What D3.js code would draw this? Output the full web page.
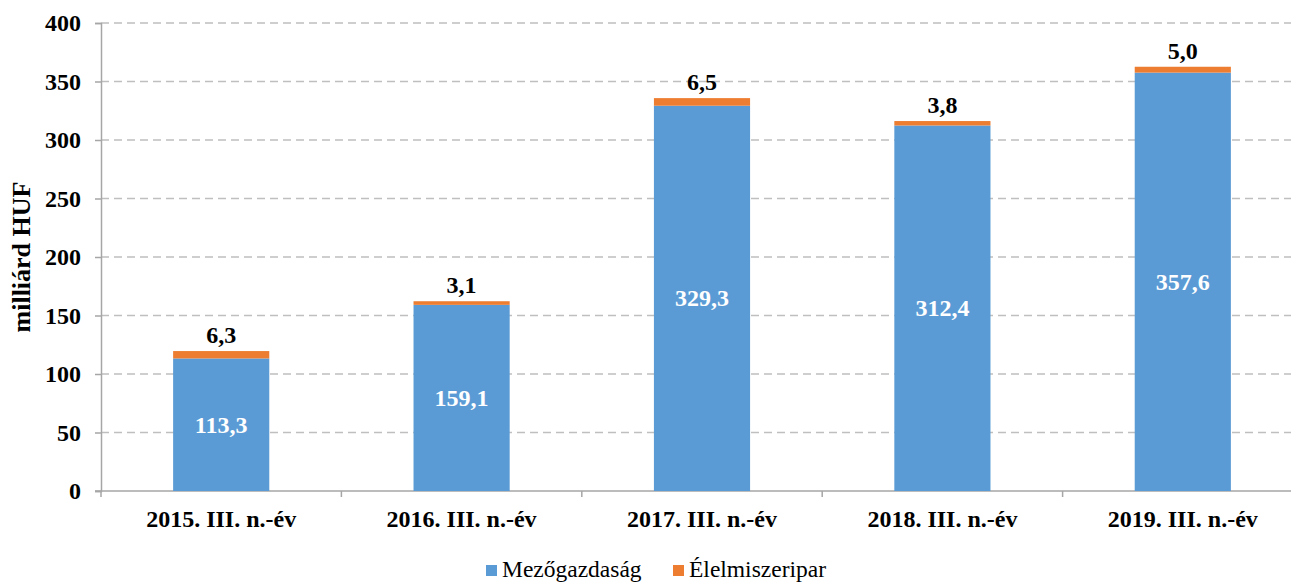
<!DOCTYPE html>
<html>
<head>
<meta charset="utf-8">
<script src="https://cdn.jsdelivr.net/npm/d3@7"></script>
<style>
  body { margin: 0; background: #fff; }
  svg { font-family: "Liberation Serif", "Times New Roman", serif; }
</style>
</head>
<body>
<div id="chart"></div>
<script>
// adatok
const categories = ['2015. III. n.-év', '2016. III. n.-év', '2017. III. n.-év', '2018. III. n.-év', '2019. III. n.-év'];
const mezogazdasag = [113.3, 159.1, 329.3, 312.4, 357.6];
const elelmiszeripar = [6.3, 3.1, 6.5, 3.8, 5.0];
const yTicks = [0, 50, 100, 150, 200, 250, 300, 350, 400];
const seriesNames = ['Mezőgazdaság', 'Élelmiszeripar'];
const colors = ['#5B9BD5', '#ED7D31'];

const W = 1291, H = 583;
const margin = { top: 23, right: -12, bottom: 92, left: 101 };
const fmt = v => v.toFixed(1).replace('.', ',');

const svg = d3.select('#chart').append('svg')
  .attr('width', W).attr('height', H);

const x = d3.scaleBand()
  .domain(categories)
  .range([margin.left, W - margin.right])
  .paddingInner(0.6).paddingOuter(0.3);

const y = d3.scaleLinear()
  .domain([0, 400])
  .range([H - margin.bottom, margin.top]);

// rácsvonalak
svg.append('g')
  .selectAll('line')
  .data(yTicks.filter(d => d > 0))
  .join('line')
  .attr('x1', margin.left).attr('x2', W - margin.right)
  .attr('y1', d => y(d)).attr('y2', d => y(d))
  .attr('stroke', '#BFBFBF').attr('stroke-width', 1.3)
  .attr('stroke-dasharray', '8,5');

// y tengely
const yAxis = svg.append('g')
  .attr('transform', `translate(${margin.left},0)`)
  .call(d3.axisLeft(y).tickValues(yTicks).tickSize(6).tickPadding(14));
yAxis.select('.domain').attr('stroke', '#A6A6A6').attr('stroke-width', 1.5);
yAxis.selectAll('.tick line').attr('stroke', '#A6A6A6').attr('stroke-width', 1.5);
yAxis.selectAll('text')
  .attr('font-family', '"Liberation Serif", serif')
  .attr('font-size', 24).attr('font-weight', 'bold').attr('fill', '#000');

// x tengely
const boundaries = categories.map(c => x(c) - x.step() * 0.3).concat([W - margin.right]);
svg.append('line')
  .attr('x1', margin.left - 6).attr('x2', W - margin.right)
  .attr('y1', y(0)).attr('y2', y(0))
  .attr('stroke', '#A6A6A6').attr('stroke-width', 1.5);
svg.append('g')
  .selectAll('line')
  .data(boundaries)
  .join('line')
  .attr('x1', d => d).attr('x2', d => d)
  .attr('y1', y(0)).attr('y2', y(0) + 6)
  .attr('stroke', '#A6A6A6').attr('stroke-width', 1.5);

svg.append('g')
  .selectAll('text')
  .data(categories)
  .join('text')
  .attr('x', d => x(d) + x.bandwidth() / 2)
  .attr('y', y(0) + 36)
  .attr('text-anchor', 'middle')
  .attr('font-size', 24).attr('font-weight', 'bold')
  .text(d => d);

// oszlopok
const data = categories.map((c, i) => ({ c, a: mezogazdasag[i], b: elelmiszeripar[i] }));

svg.append('g').selectAll('rect')
  .data(data).join('rect')
  .attr('x', d => x(d.c)).attr('width', x.bandwidth())
  .attr('y', d => y(d.a)).attr('height', d => y(0) - y(d.a))
  .attr('fill', colors[0]);

svg.append('g').selectAll('rect')
  .data(data).join('rect')
  .attr('x', d => x(d.c)).attr('width', x.bandwidth())
  .attr('y', d => y(d.a + d.b)).attr('height', d => y(d.a) - y(d.a + d.b))
  .attr('fill', colors[1]);

// címkék
svg.append('g').selectAll('text')
  .data(data).join('text')
  .attr('x', d => x(d.c) + x.bandwidth() / 2)
  .attr('y', d => (y(0) + y(d.a)) / 2 + 8)
  .attr('text-anchor', 'middle')
  .attr('font-size', 24).attr('font-weight', 'bold').attr('fill', '#fff')
  .text(d => fmt(d.a));

svg.append('g').selectAll('text')
  .data(data).join('text')
  .attr('x', d => x(d.c) + x.bandwidth() / 2)
  .attr('y', d => y(d.a + d.b) - 8)
  .attr('text-anchor', 'middle')
  .attr('font-size', 24).attr('font-weight', 'bold').attr('fill', '#000')
  .text(d => fmt(d.b));

// tengelycím
svg.append('text')
  .attr('transform', `translate(30,${(y(0) + y(400)) / 2}) rotate(-90)`)
  .attr('text-anchor', 'middle')
  .attr('font-size', 26).attr('font-weight', 'bold')
  .text('milliárd HUF');

// jelmagyarázat
const legendX = [486, 673];
const legend = svg.append('g').selectAll('g')
  .data(seriesNames).join('g')
  .attr('transform', (d, i) => `translate(${legendX[i]},565)`);
legend.append('rect')
  .attr('width', 11).attr('height', 11)
  .attr('fill', (d, i) => colors[i]);
legend.append('text')
  .attr('x', 16).attr('y', 12)
  .attr('font-size', 23.5)
  .text(d => d);
</script>
</body>
</html>
